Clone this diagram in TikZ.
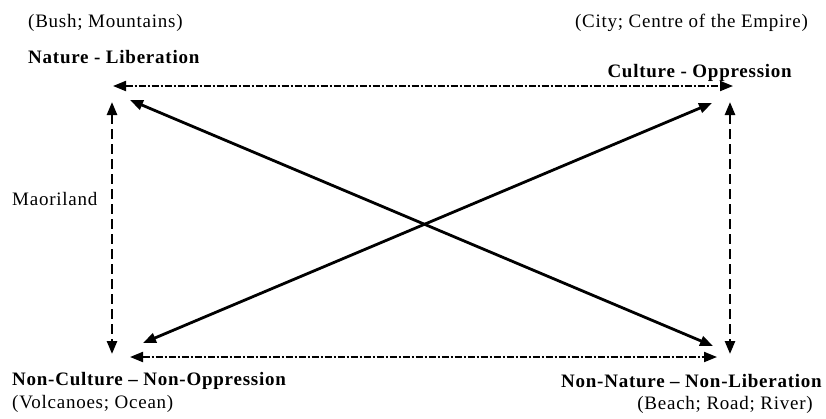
\documentclass[tikz,border=0pt]{standalone}
\usepackage{fontspec}
\setmainfont{Liberation Serif}[LetterSpace=4]
\usetikzlibrary{arrows.meta}
\begin{document}
\begin{tikzpicture}[x=1pt,y=-1pt,
  lbl/.style={inner sep=0pt,font=\fontsize{19}{21}\selectfont},
  blbl/.style={lbl,font=\fontsize{19}{21}\selectfont\bfseries},
  arr/.style={line width=2.2pt,{Triangle[length=13pt,width=10pt]}-{Triangle[length=13pt,width=10pt]}},
  dashdot/.style={arr,line width=2pt,dash pattern=on 7pt off 2pt on 2pt off 2pt},
  dashv/.style={arr,line width=2.5pt,dash pattern=on 10pt off 5pt},
  solidarr/.style={arr,line width=2.8pt}]
\useasboundingbox (0,0) rectangle (826,418);
\fill[white] (0,0) rectangle (826,418);
% labels
\node[lbl,anchor=west] (bush) at (28,23) {(Bush; Mountains)};
\node[blbl,anchor=west] (nat) at (28,57) {Nature - Liberation};
\node[lbl,anchor=east] (city) at (808,23) {(City; Centre of the Empire)};
\node[blbl,anchor=east] (cult) at (792,73) {Culture - Oppression};
\node[lbl,anchor=west] (maori) at (12,199) {Maoriland};
\node[blbl,anchor=west] (noncult) at (12,381) {Non-Culture -- Non-Oppression};
\node[lbl,anchor=west] (volc) at (12,404) {(Volcanoes; Ocean)};
\node[blbl,anchor=east] (nonnat) at (822,381) {Non-Nature -- Non-Liberation};
\node[lbl,anchor=east] (beach) at (813,405) {(Beach; Road; River)};
% arrow end points
\coordinate (thL) at (113,86);
\coordinate (thR) at (733,86);
\coordinate (bhL) at (130,357);
\coordinate (bhR) at (717,357);
\coordinate (lvT) at (112,102);
\coordinate (lvB) at (112,354);
\coordinate (rvT) at (730,102);
\coordinate (rvB) at (730,354);
\coordinate (d1a) at (130,100);
\coordinate (d1b) at (713,346);
\coordinate (d2a) at (143,343);
\coordinate (d2b) at (712,103);
% arrows
\draw[dashdot] (thL) -- (thR);
\draw[dashdot] (bhL) -- (bhR);
\draw[dashv] (lvT) -- (lvB);
\draw[dashv] (rvT) -- (rvB);
\draw[solidarr] (d1a) -- (d1b);
\draw[solidarr] (d2a) -- (d2b);
\end{tikzpicture}
\end{document}
